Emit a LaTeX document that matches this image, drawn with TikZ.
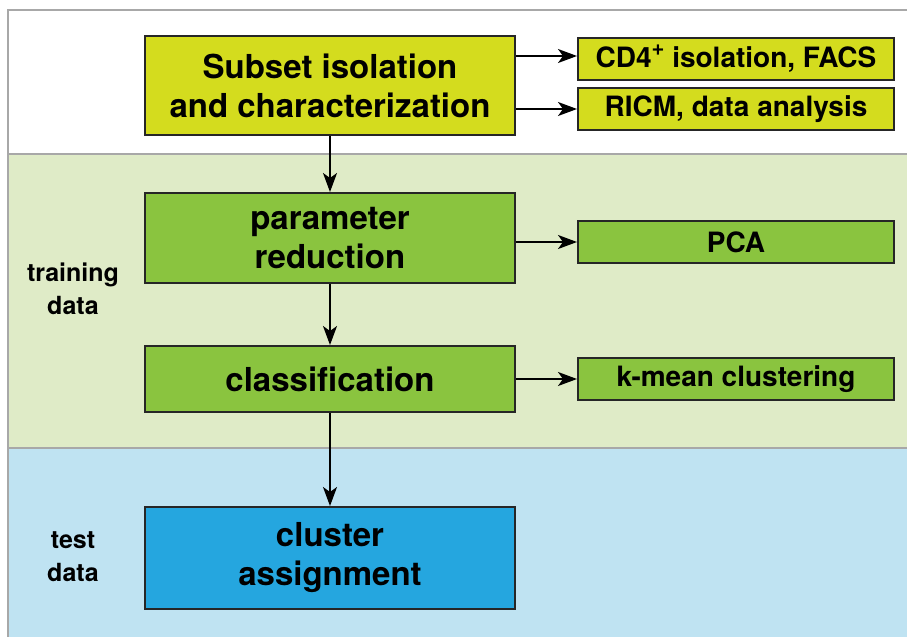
\documentclass[tikz,border=0pt]{standalone}
\usepackage{fontspec}
\setmainfont{TeX Gyre Heros}
\usetikzlibrary{arrows.meta, positioning}

\definecolor{isoyellow}{HTML}{D4DC1E}
\definecolor{stepgreen}{HTML}{8AC43F}
\definecolor{testblue}{HTML}{25A6DF}
\definecolor{trainbg}{HTML}{DFEBC7}
\definecolor{testbg}{HTML}{BFE3F2}
\definecolor{framegray}{HTML}{A8A8A8}

\tikzset{
  mainbox/.style={draw=black!85, line width=2pt, minimum width=370pt, align=center,
    font=\fontsize{33}{39}\selectfont\bfseries},
  sidebox/.style={draw=black!85, line width=2pt, minimum width=316pt, minimum height=42pt,
    inner sep=0pt, font=\fontsize{28}{32}\selectfont\bfseries},
  setlabel/.style={align=center, font=\fontsize{25}{33}\selectfont\bfseries},
  flow/.style={-{Stealth[length=19pt,width=14pt,inset=5pt]}, line width=1.6pt}
}

\begin{document}
\begin{tikzpicture}[x=1pt, y=-1pt]
  \useasboundingbox (0,0) rectangle (907,637);
  % bands
  \fill[white] (0,0) rectangle (907,637);
  \fill[trainbg] (8,154) rectangle (907,448);
  \fill[testbg] (8,448) rectangle (907,637);
  \draw[framegray, line width=2pt] (907,10) -- (8,10) -- (8,637);
  \draw[framegray, line width=2pt] (8,154) -- (907,154);
  \draw[framegray, line width=2pt] (8,448) -- (907,448);

  % main steps
  \node[mainbox, fill=isoyellow, minimum height=99pt] (iso) at (330,85.5)
    {Subset isolation\\and characterization};
  \node[mainbox, fill=stepgreen, minimum height=90pt] (red) at (330,238)
    {parameter\\reduction};
  \node[mainbox, fill=stepgreen, minimum height=66pt] (cls) at (330,379)
    {classification};
  \node[mainbox, fill=testblue, minimum height=102pt] (asg) at (330,558)
    {cluster\\assignment};

  % methods
  \node[sidebox, fill=isoyellow] (facs) at (736,59)
    {CD4\raisebox{0.42em}{\fontsize{22}{22}\selectfont +} isolation, FACS};
  \node[sidebox, fill=isoyellow] (ricm) at (736,109) {RICM, data analysis};
  \node[sidebox, fill=stepgreen] (pca) at (736,242) {PCA};
  \node[sidebox, fill=stepgreen] (kmc) at (736,379) {k-mean clustering};

  % data sets
  \node[setlabel] (train) at (73,289) {training\\data};
  \node[setlabel] (test) at (73,557) {test\\data};

  \draw[flow] (iso) -- (red);
  \draw[flow] (red) -- (cls);
  \draw[flow] (cls) -- (asg);
  \draw[flow] (iso.east |- 0,56) -- (facs.west |- 0,56);
  \draw[flow] (iso.east |- ricm) -- (ricm);
  \draw[flow] (red.east |- pca) -- (pca);
  \draw[flow] (cls.east |- kmc) -- (kmc);
\end{tikzpicture}
\end{document}
